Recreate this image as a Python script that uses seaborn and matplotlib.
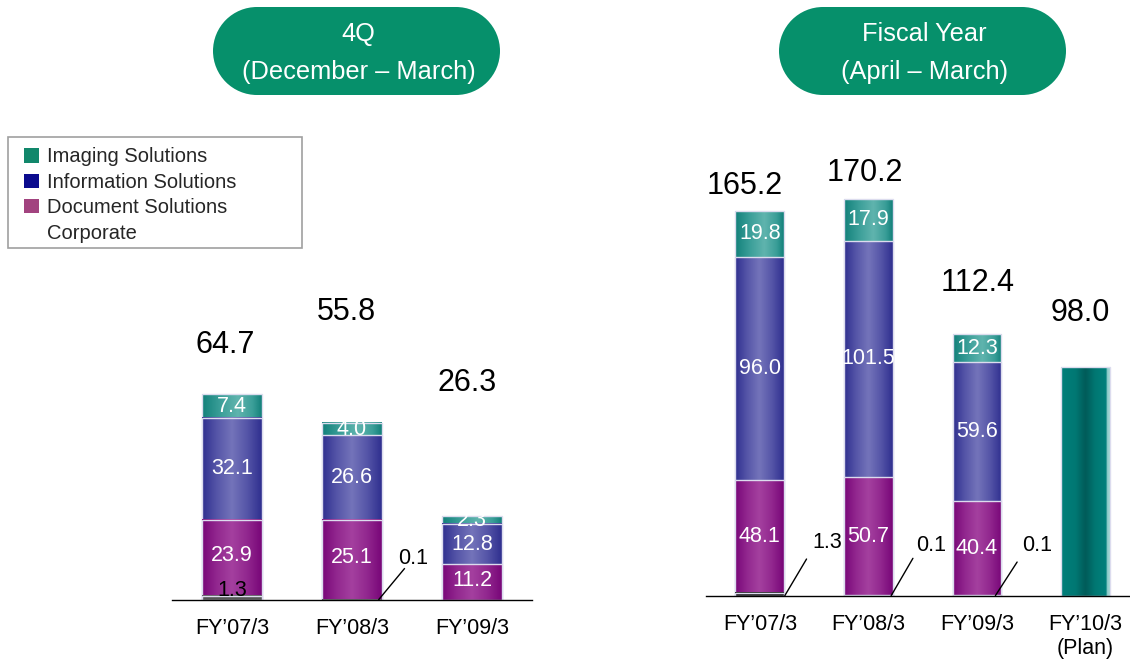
import numpy as np
import matplotlib
matplotlib.use("Agg")
import matplotlib.pyplot as plt
from matplotlib.colors import LinearSegmentedColormap
from matplotlib.patches import Rectangle, Circle, Patch
import seaborn as sns

# ---------------- data ----------------
q_categories = ["FY\u201907/3", "FY\u201908/3", "FY\u201909/3"]
q_imaging = [7.4, 4.0, 2.3]
q_information = [32.1, 26.6, 12.8]
q_document = [23.9, 25.1, 11.2]
q_corporate = [1.3, 0.1, 0.0]
q_totals = [64.7, 55.8, 26.3]

fy_categories = ["FY\u201907/3", "FY\u201908/3", "FY\u201909/3", "FY\u201910/3\n(Plan)"]
fy_imaging = [19.8, 17.9, 12.3]
fy_information = [96.0, 101.5, 59.6]
fy_document = [48.1, 50.7, 40.4]
fy_corporate = [1.3, 0.1, 0.1]
fy_totals = [165.2, 170.2, 112.4, 98.0]
fy_plan = [98.0]

legend_labels = ["Imaging Solutions", "Information Solutions", "Document Solutions", "Corporate"]
titles = [("4Q", "(December \u2013 March)"), ("Fiscal Year", "(April \u2013 March)")]

# ---------------- style ----------------
sns.set_style("white")
plt.rcParams["font.family"] = ["Liberation Sans", "DejaVu Sans"]

W, H = 1130, 664
fig = plt.figure(figsize=(W / 100, H / 100), dpi=100)

def px_axes(x0, x1, ytop, ybot):
    return fig.add_axes([x0 / W, (H - ybot) / H, (x1 - x0) / W, (ybot - ytop) / H])

ax_q = px_axes(172, 532, 100, 600)
ax_f = px_axes(705.6, 1130, 100, 595.6)

grad_teal = [(0.0, "#12807a"), (0.3, "#3a9e98"), (0.6, "#60b4ae"), (0.85, "#3a9e98"), (1.0, "#12807a")]
grad_blue = ["#2f2f8f", "#5656a8", "#7474ba", "#5656a8", "#2f2f8f"]
grad_purple = ["#780678", "#92288f", "#a4409f", "#92288f", "#780678"]
grad_corp = ["#555555", "#555555"]
grad_plan = [(0.0, "#007e7a"), (0.3, "#007873"), (0.5, "#005b59"), (0.7, "#007873"),
             (0.93, "#00807c"), (0.94, "#98d2d0"), (1.0, "#98d2d0")]

legend_colors = ["#11876b", "#0b0b8e", "#a2437f"]


def gradient_fill(ax, patches, stops, z):
    cmap = LinearSegmentedColormap.from_list("g", stops)
    grad = np.linspace(0, 1, 256).reshape(1, -1)
    for p in patches:
        x, y = p.get_x(), p.get_y()
        w, h = p.get_width(), p.get_height()
        if not np.isfinite(h) or h <= 0:
            p.set_visible(False)
            continue
        ax.imshow(grad, cmap=cmap, extent=(x, x + w, y, y + h), aspect="auto",
                  interpolation="bicubic", zorder=z, origin="lower")
        p.set_facecolor("none")
        p.set_edgecolor("#dcdcee")
        p.set_linewidth(1.0)
        p.set_zorder(z + 0.05)


def draw_stack(ax, cats, order, layers, width):
    # layers: cumulative values, drawn from the top layer downward
    for k, (vals, stops) in enumerate(layers):
        n0 = len(ax.patches)
        sns.barplot(x=cats[:len(vals)], y=vals, order=order, color="gray",
                    width=width, errorbar=None, ax=ax)
        gradient_fill(ax, ax.patches[n0:], stops, 2 + k * 0.2)


def cum(*arrs):
    return list(np.sum(np.array(arrs), axis=0))


seg_fs = 15.5
tot_fs = 22

# ---------------- 4Q panel ----------------
wq = 0.5
q_layers = [
    (cum(q_corporate, q_document, q_information, q_imaging), grad_teal),
    (cum(q_corporate, q_document, q_information), grad_blue),
    (cum(q_corporate, q_document), grad_purple),
    (list(q_corporate), grad_corp),
]
draw_stack(ax_q, q_categories, q_categories, q_layers, wq)

for i in range(len(q_categories)):
    b0 = q_corporate[i]
    b1 = b0 + q_document[i]
    b2 = b1 + q_information[i]
    ax_q.text(i, (b0 + b1) / 2 + 0.6, f"{q_document[i]:.1f}", color="white", fontsize=seg_fs,
              ha="center", va="center", zorder=10)
    ax_q.text(i, (b1 + b2) / 2, f"{q_information[i]:.1f}", color="white", fontsize=seg_fs,
              ha="center", va="center", zorder=10)
    ax_q.text(i, b2 + q_imaging[i] / 2 - 0.3, f"{q_imaging[i]:.1f}", color="white", fontsize=seg_fs,
              ha="center", va="center", zorder=10)

ax_q.text(0, 3.1, f"{q_corporate[0]:.1f}", color="black", fontsize=seg_fs, ha="center",
          va="center", zorder=11)
ax_q.plot([1.22, 1.44], [0, 10], color="black", lw=1.0, zorder=11, solid_capstyle="butt")
ax_q.text(1.51, 13.0, f"{q_corporate[1]:.1f}", color="black", fontsize=seg_fs, ha="center",
          va="center", zorder=11)

q_total_pos = [(-0.06, 80.2), (0.95, 90.6), (1.96, 68.2)]
for (x, y), v in zip(q_total_pos, q_totals):
    ax_q.text(x, y, f"{v:.1f}", fontsize=tot_fs, ha="center", va="center", color="black", zorder=11)

ax_q.set_xlim(-0.5, 2.5)
ax_q.set_ylim(0, 500 / 3.18)

# ---------------- Fiscal year panel ----------------
wf = 0.45
f_layers = [
    (cum(fy_corporate, fy_document, fy_information, fy_imaging), grad_teal),
    (cum(fy_corporate, fy_document, fy_information), grad_blue),
    (cum(fy_corporate, fy_document), grad_purple),
    (list(fy_corporate), ["#202020", "#202020"]),
]
draw_stack(ax_f, fy_categories, fy_categories, f_layers, wf)

n0 = len(ax_f.patches)
sns.barplot(x=fy_categories[3:], y=fy_plan, order=fy_categories, color="gray",
            width=wf, errorbar=None, ax=ax_f)
gradient_fill(ax_f, ax_f.patches[n0:], grad_plan, 2.0)

for i in range(3):
    b0 = fy_corporate[i]
    b1 = b0 + fy_document[i]
    b2 = b1 + fy_information[i]
    ax_f.text(i, (b0 + b1) / 2, f"{fy_document[i]:.1f}", color="white", fontsize=seg_fs,
              ha="center", va="center", zorder=10)
    ax_f.text(i, (b1 + b2) / 2, f"{fy_information[i]:.1f}", color="white", fontsize=seg_fs,
              ha="center", va="center", zorder=10)
    ax_f.text(i, b2 + fy_imaging[i] / 2, f"{fy_imaging[i]:.1f}", color="white", fontsize=seg_fs,
              ha="center", va="center", zorder=10)

f_corp_lines = [((0.23, 0), (0.43, 15.7)), ((1.21, 0), (1.41, 16.0)), ((2.17, 0), (2.37, 14.4))]
f_corp_text = [(0.62, 23.0), (1.58, 21.3), (2.55, 21.3)]
for (p0, p1), (tx, ty), v in zip(f_corp_lines, f_corp_text, fy_corporate):
    ax_f.plot([p0[0], p1[0]], [p0[1], p1[1]], color="black", lw=1.0, zorder=11)
    ax_f.text(tx, ty, f"{v:.1f}", color="black", fontsize=seg_fs, ha="center", va="center",
              zorder=11)

f_total_pos = [(-0.14, 175.8), (0.97, 181.4), (2.01, 134.2), (2.95, 121.3)]
for (x, y), v in zip(f_total_pos, fy_totals):
    ax_f.text(x, y, f"{v:.1f}", fontsize=tot_fs, ha="center", va="center", color="black", zorder=11)

ax_f.set_xlim(-0.5, 3.41)
ax_f.set_ylim(0, 495.6 / 2.33)

# ---------------- axes styling ----------------
for ax in (ax_q, ax_f):
    sns.despine(ax=ax, left=True, top=True, right=True, bottom=False)
    ax.spines["bottom"].set_color("black")
    ax.spines["bottom"].set_linewidth(1.0)
    ax.spines["bottom"].set_zorder(12)
    ax.set_yticks([])
    ax.set_xlabel("")
    ax.set_ylabel("")
    ax.tick_params(axis="x", length=0, pad=13, labelsize=seg_fs, labelcolor="black")
    ax.set_facecolor("none")
    ax.grid(False)

# ---------------- title pills ----------------
pill_color = "#06906b"
pills = [(213, 500), (779, 1066)]
tr = fig.dpi_scale_trans
for (x0, x1), (l1, l2) in zip(pills, titles):
    y_top, y_bot = 7, 95
    r = (y_bot - y_top) / 200          # radius in inches
    yc = (H - (y_top + y_bot) / 2) / 100
    xl, xr = x0 / 100 + r, x1 / 100 - r
    fig.patches.append(Rectangle((xl, yc - r), xr - xl, 2 * r, transform=tr,
                                 facecolor=pill_color, edgecolor="none"))
    for xc in (xl, xr):
        fig.patches.append(Circle((xc, yc), r, transform=tr, facecolor=pill_color,
                                  edgecolor="none"))
    cx = (x0 + x1) / 2 / W + 2 / W
    fig.text(cx, 1 - 34 / H, l1, color="white", fontsize=18.3, ha="center", va="center")
    fig.text(cx, 1 - 72 / H, l2, color="white", fontsize=18.3, ha="center", va="center")

# ---------------- legend ----------------
fig.patches.append(Rectangle((8 / W, 1 - 248 / H), 294 / W, 111 / H, transform=fig.transFigure,
                             facecolor="white", edgecolor="#a0a0a0", linewidth=1.2))
handles = [Patch(facecolor=c, edgecolor="none") for c in legend_colors]
handles.append(Patch(facecolor="none", edgecolor="none"))
leg = fig.legend(handles, legend_labels, loc="upper left",
                 bbox_to_anchor=(24 / W, 1 - 147.5 / H), borderaxespad=0, borderpad=0,
                 frameon=False, fontsize=14.5, handlelength=0.75, handleheight=0.7,
                 handletextpad=0.4, labelspacing=0.32)

fig.savefig("out.png", dpi=100)
